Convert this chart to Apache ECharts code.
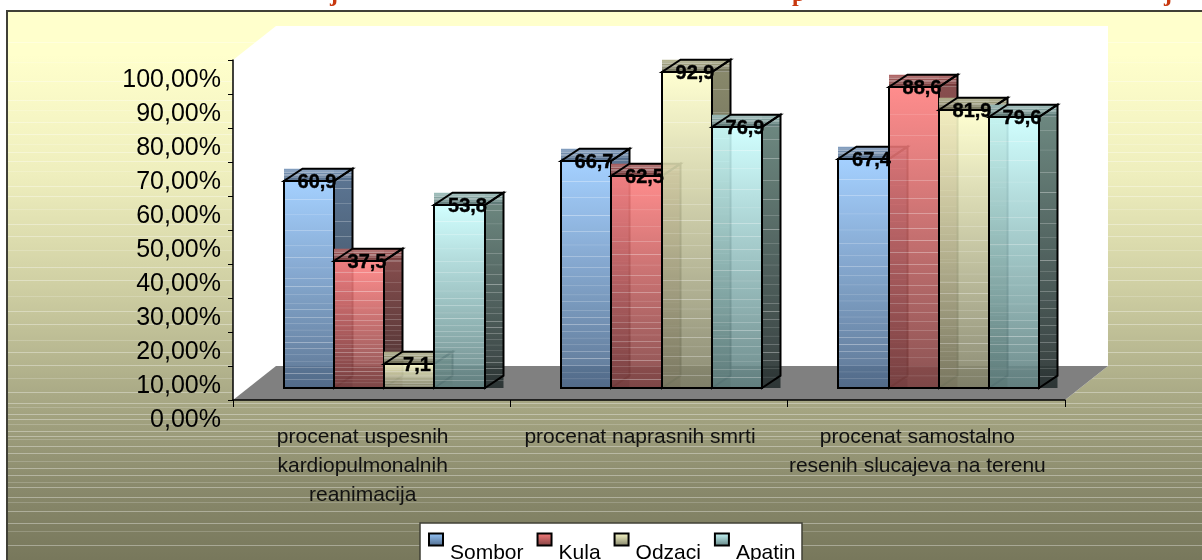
<!DOCTYPE html>
<html>
<head>
<meta charset="utf-8">
<style>html,body{margin:0;padding:0;background:#fff;overflow:hidden}#c{width:1202px;height:560px}</style>
<script src="https://cdn.jsdelivr.net/npm/echarts@6/dist/echarts.min.js"></script>
</head>
<body>
<div id="c"></div>
<script>
const categories = ['procenat uspesnih\nkardiopulmonalnih\nreanimacija', 'procenat naprasnih smrti', 'procenat samostalno\nresenih slucajeva na terenu'];
const seriesNames = ['Sombor', 'Kula', 'Odzaci', 'Apatin'];
const sombor = [60.9, 66.7, 67.4];
const kula = [37.5, 62.5, 88.6];
const odzaci = [7.1, 92.9, 81.9];
const apatin = [53.8, 76.9, 79.6];
const seriesValues = [sombor, kula, odzaci, apatin];

const palette = [
  {front:['#9acbff','#4d6889'], top:['#7f9cbf','#46607f'], side:['#4f6b8c','#26333f']},
  {front:['#ff8080','#7d4040'], top:['#b06060','#6a3030'], side:['#804040','#3a2020']},
  {front:['#ffffcc','#7f7f66'], top:['#b5b58e','#66664f'], side:['#808060','#3a3a2c']},
  {front:['#ccffff','#5f7f7f'], top:['#9cc0bc','#4f6a68'], side:['#628078','#262f2f']}
];
const panelStripes = [42,62,81,100,110,122,134,144,152,161,171,186,196,209,224,236,250,267,280,296,311,324,340,352,365,378,392,403,407,414,419,424,431,436,439,446,453,461,468,475,482,487,497,502,511,523,531,545];
const barStripes = [.09,.16,.24,.31,.37,.42,.47,.51,.55,.59,.62,.66,.69,.72,.75,.78,.81,.84,.87,.9,.93,.96];
const barShare = 0.1814, depthX = 18.5, depthY = -12.3;
const FONT = '"Liberation Sans", Arial, sans-serif';

function hex(c){return [1,3,5].map(i=>parseInt(c.substr(i,2),16));}
function mixArr(A,B,t){return A.map((v,i)=>Math.round(v+(B[i]-v)*t));}
function css(a){return 'rgb('+a.join(',')+')';}
function striped(pair,h){
  const A=hex(pair[0]),B=hex(pair[1]);
  const stops=[{offset:0,color:pair[0]}], e=Math.min(.02,.6/Math.max(h,1));
  barStripes.forEach(f=>{
    const base=mixArr(A,B,f), lit=mixArr(base,[255,255,255],.35);
    stops.push({offset:f-e,color:css(base)},{offset:f,color:css(lit)},{offset:f+e,color:css(base)});
  });
  stops.push({offset:1,color:pair[1]});
  return {type:'linear',x:0,y:0,x2:0,y2:1,colorStops:stops};
}
function makeRender(si){
  return function(params,api){
    const cat=api.value(0), val=api.value(1);
    const base=api.coord([cat,0]), topP=api.coord([cat,val]);
    const w=api.size([1,0])[0]*barShare;
    const x=Math.round(base[0]+(si-2)*w), b=Math.round(base[1]), t=Math.round(topP[1]), h=b-t;
    const wr=Math.round(base[0]+(si-1)*w)-x;
    const p=palette[si];
    const line={stroke:'#000',lineWidth:2,fill:null,lineJoin:'miter'};
    return {type:'group',children:[
      {type:'rect',shape:{x:x+wr,y:t+depthY,width:depthX,height:h-depthY},style:{fill:striped(p.side,h-depthY),opacity:.92}},
      {type:'rect',shape:{x:x,y:t+depthY,width:wr+depthX,height:-depthY},style:{fill:striped(p.top,-depthY),opacity:.95}},
      {type:'polygon',shape:{points:[[x,t],[x+wr,t],[x+wr+depthX,t+depthY],[x+depthX,t+depthY]]},style:line},
      {type:'polygon',shape:{points:[[x+wr,t],[x+wr+depthX,t+depthY],[x+wr+depthX,b+depthY],[x+wr,b]]},style:line},
      {type:'rect',shape:{x:x,y:t,width:wr,height:h},style:{fill:striped(p.front,h),opacity:.9}},
      {type:'rect',shape:{x:x,y:t,width:wr,height:h},style:line},
      {type:'text',z2:100,style:{x:x+wr/2+8,y:t+1,text:String(val).replace('.',','),align:'center',verticalAlign:'middle',fill:'#000',stroke:'#000',lineWidth:.4,font:'bold 20px '+FONT}}
    ]};
  };
}

const bg=[];
bg.push({type:'rect',z:0,shape:{x:7,y:11,width:1197,height:551},style:{fill:{type:'linear',x:0,y:0,x2:0,y2:1,colorStops:[
  {offset:0,color:'#ffffcc'},{offset:.08,color:'#ffffcc'},{offset:.3,color:'#eeeebd'},{offset:.5,color:'#cfcfa3'},{offset:.72,color:'#a5a582'},{offset:.86,color:'#8a8a6c'},{offset:1,color:'#77775b'}]},stroke:'#404036',lineWidth:2}});
panelStripes.forEach((y,i)=>bg.push({type:'rect',z:0,shape:{x:8,y:y,width:1194,height:1},style:{fill:'#ffffff',opacity:i%3===1?.18:.34}}));
bg.push({type:'polygon',z:0,shape:{points:[[233,60],[276,26],[1108,26],[1108,366],[1065,400],[233,400]]},style:{fill:'#fff'}});
bg.push({type:'polygon',z:0,shape:{points:[[233,400],[276,366],[1108,366],[1065,400]]},style:{fill:'#808080'}});
bg.push({type:'rect',z:0,shape:{x:420,y:523,width:382,height:50},style:{fill:'#fff',stroke:'#404036',lineWidth:1.5}});

const titleBits=[['j',330],['p',792],['j',1164]];
titleBits.forEach(b=>bg.push({type:'text',z:0,style:{x:b[1],y:-17,text:b[0],fill:'#c8380f',font:'bold 24px "Liberation Serif", serif'}}));

const chart=echarts.init(document.getElementById('c'),null,{renderer:'canvas'});
chart.setOption({
  animation:false,
  backgroundColor:'#ffffff',
  graphic:{elements:bg},
  legend:{
    left:428,top:515.5,orient:'horizontal',
    padding:0,itemWidth:14,itemHeight:12,itemGap:13,
    selectedMode:false,
    formatter:n=>'{t|'+n+'}',
    textStyle:{rich:{t:{fontFamily:FONT,fontSize:21,color:'#000',lineHeight:24,padding:[27,0,0,2]}}},
    data:seriesNames.map((n,i)=>({name:n,icon:'rect',itemStyle:{color:{type:'linear',x:0,y:0,x2:0,y2:1,colorStops:[{offset:0,color:palette[i].front[0]},{offset:1,color:palette[i].front[1]}]},borderColor:'#000',borderWidth:2}}))
  },
  grid:[
    {left:233,top:60,width:832,height:340},
    {left:245.5,top:48,width:832,height:340},
    {left:233,top:80,width:832,height:340}
  ],
  xAxis:[
    {type:'category',gridIndex:0,data:categories,z:1,
     axisLine:{lineStyle:{color:'#000',width:1.5}},axisTick:{show:true,length:7,lineStyle:{color:'#000'}},
     axisLabel:{interval:0,hideOverlap:false,fontFamily:FONT,fontSize:21,color:'#111',lineHeight:29,margin:23,padding:[0,18,0,0]}},
    {type:'category',gridIndex:1,data:categories,show:false},
    {type:'category',gridIndex:2,data:categories,show:false}
  ],
  yAxis:[
    {type:'value',gridIndex:0,min:0,max:100,interval:10,z:1,
     axisLine:{show:true,lineStyle:{color:'#000',width:1.5}},
     axisTick:{show:true,length:5,lineStyle:{color:'#000'}},splitLine:{show:false},
     axisLabel:{show:false}},
    {type:'value',gridIndex:1,min:0,max:100,interval:10,show:false,splitLine:{show:false}},
    {type:'value',gridIndex:2,min:0,max:100,interval:10,z:1,
     axisLine:{show:false},axisTick:{show:false},splitLine:{show:false},
     axisLabel:{showMinLabel:true,showMaxLabel:true,formatter:v=>Number(v).toFixed(2).replace('.',',')+'%',fontFamily:FONT,fontSize:25,color:'#000',margin:12}}
  ],
  series:seriesNames.map((n,si)=>({
    name:n,type:'custom',xAxisIndex:1,yAxisIndex:1,clip:false,
    itemStyle:{color:palette[si].front[0]},
    encode:{x:0,y:1},
    data:seriesValues[si].map((v,c)=>[c,v]),
    renderItem:makeRender(si)
  }))
});
</script>
</body>
</html>
